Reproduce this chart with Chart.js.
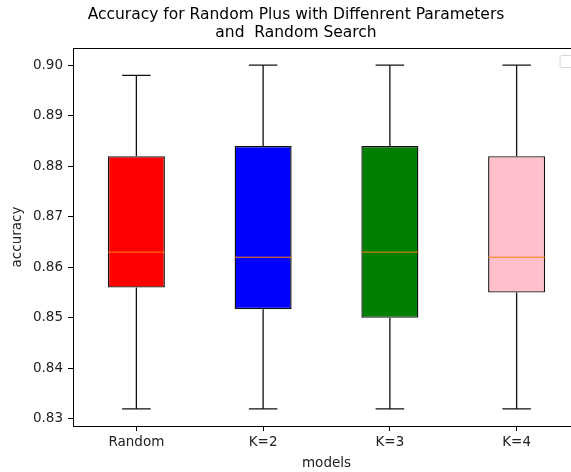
<!DOCTYPE html>
<html lang="en">

<head>
    <meta charset="UTF-8">
    <script src="https://cdn.jsdelivr.net/npm/chart.js"></script>
    <title>Accuracy boxplot</title>
    <style>
        html, body { margin: 0; padding: 0; background: #fff; overflow: hidden; }
        #wrap { width: 592px; height: 472px; }
    </style>
</head>

<body>
    <div id="wrap">
        <canvas id="grafico" width="592" height="472"></canvas>
    </div>
</body>

</html>

<script>
    // categorias e estatisticas de cada caixa
    const modelos = ['Random', 'K=2', 'K=3', 'K=4'];
    const minimos = [0.832, 0.832, 0.832, 0.832];
    const q1 = [0.856, 0.8517, 0.850, 0.855];
    const medianas = [0.863, 0.862, 0.863, 0.862];
    const q3 = [0.882, 0.884, 0.884, 0.882];
    const maximos = [0.898, 0.900, 0.900, 0.900];
    const cores = ['red', 'blue', 'green', 'pink'];
    const ticksY = [0.83, 0.84, 0.85, 0.86, 0.87, 0.88, 0.89, 0.90];

    const fonte = "'DejaVu Sans', sans-serif";

    // bigodes, tampas e mediana desenhados sobre as barras flutuantes
    const bigodes = {
        id: 'bigodes',
        afterDatasetsDraw(chart) {
            const ctx = chart.ctx;
            const x = chart.scales.x, y = chart.scales.y;
            const meta = chart.getDatasetMeta(0);
            ctx.save();
            for (let i = 0; i < modelos.length; i++) {
                const cx = x.getPixelForValue(i);
                const meia = meta.data[i].width / 2;
                const tampa = meia / 2;
                ctx.strokeStyle = '#111';
                ctx.lineWidth = 1.3;
                ctx.beginPath();
                ctx.moveTo(cx, y.getPixelForValue(q3[i]));
                ctx.lineTo(cx, y.getPixelForValue(maximos[i]));
                ctx.moveTo(cx, y.getPixelForValue(q1[i]));
                ctx.lineTo(cx, y.getPixelForValue(minimos[i]));
                ctx.moveTo(cx - tampa, y.getPixelForValue(maximos[i]));
                ctx.lineTo(cx + tampa, y.getPixelForValue(maximos[i]));
                ctx.moveTo(cx - tampa, y.getPixelForValue(minimos[i]));
                ctx.lineTo(cx + tampa, y.getPixelForValue(minimos[i]));
                ctx.stroke();
                ctx.strokeStyle = '#ff7f0e';
                ctx.lineWidth = 1;
                ctx.beginPath();
                ctx.moveTo(cx - meia, y.getPixelForValue(medianas[i]));
                ctx.lineTo(cx + meia, y.getPixelForValue(medianas[i]));
                ctx.stroke();
            }
            // moldura superior e direita
            const a = chart.chartArea;
            ctx.strokeStyle = '#000';
            ctx.lineWidth = 1;
            ctx.beginPath();
            ctx.moveTo(a.left, a.top + 0.5);
            ctx.lineTo(a.right, a.top + 0.5);
            ctx.lineTo(a.right, a.bottom);
            ctx.stroke();
            // legenda vazia no canto
            ctx.strokeStyle = '#d8d8d8';
            ctx.fillStyle = 'rgba(255,255,255,0.8)';
            ctx.beginPath();
            ctx.roundRect(a.right - 20, a.top + 7.5, 14, 12, 2);
            ctx.fill();
            ctx.stroke();
            ctx.restore();
        }
    };

    const dados = {
        labels: modelos,
        datasets: [{
            label: 'caixas',
            data: modelos.map((m, i) => [q1[i], q3[i]]),
            backgroundColor: cores,
            borderColor: '#111',
            borderWidth: 1.4,
            borderSkipped: false,
            barPercentage: 0.45,
            categoryPercentage: 1.0
        }]
    };

    const config = {
        type: 'bar',
        data: dados,
        plugins: [bigodes],
        options: {
            responsive: false,
            animation: false,
            layout: { padding: 0 },
            plugins: {
                legend: { display: false },
                tooltip: { enabled: false },
                title: {
                    display: true,
                    text: ['Accuracy for Random Plus with Diffenrent Parameters', 'and  Random Search'],
                    color: '#000',
                    font: { family: fonte, size: 15.5, weight: 'normal', lineHeight: '18px' },
                    padding: { top: 6, bottom: 6 }
                }
            },
            scales: {
                x: {
                    grid: { display: true, offset: false, drawOnChartArea: false, drawTicks: true, tickLength: 5, color: '#000' },
                    border: { display: true, color: '#000', width: 1 },
                    ticks: { color: '#222', font: { family: fonte, size: 13.5 }, padding: 3 },
                    title: { display: true, text: 'models', color: '#222', font: { family: fonte, size: 13.5 }, padding: { top: 2, bottom: 0 } },
                    afterFit(scale) { scale.height = 46; }
                },
                y: {
                    min: 0.8286,
                    max: 0.9034,
                    grid: { display: true, drawOnChartArea: false, drawTicks: true, tickLength: 5, color: '#000' },
                    border: { display: true, color: '#000', width: 1 },
                    ticks: {
                        color: '#222', font: { family: fonte, size: 13.5 }, padding: 5,
                        callback: v => v.toFixed(2)
                    },
                    afterBuildTicks(scale) { scale.ticks = ticksY.map(v => ({ value: v })); },
                    title: { display: true, text: 'accuracy', color: '#222', font: { family: fonte, size: 13.5 }, padding: { top: 9, bottom: 0 } },
                    afterFit(scale) { scale.width = 73; }
                },
                // margem direita vazia, fora da janela
                margem: {
                    position: 'right',
                    display: true,
                    grid: { display: false },
                    border: { display: false },
                    ticks: { display: false },
                    afterFit(scale) { scale.width = 12; }
                }
            }
        }
    };

    new Chart(document.getElementById('grafico'), config);
</script>
